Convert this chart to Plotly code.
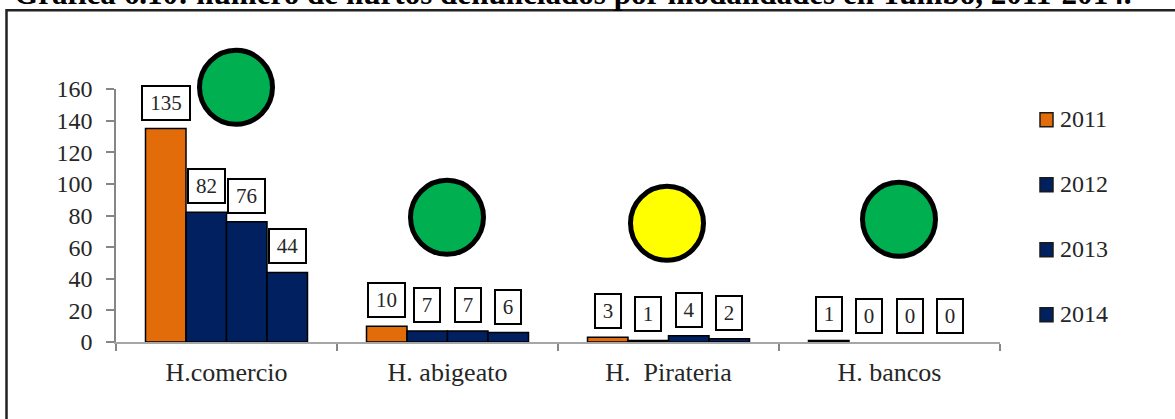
import plotly.graph_objects as go

categories = ["H.comercio", "H. abigeato", "H.  Pirateria", "H. bancos"]
years = ["2011", "2012", "2013", "2014"]
values_2011 = [135, 10, 3, 1]
values_2012 = [82, 7, 1, 0]
values_2013 = [76, 7, 4, 0]
values_2014 = [44, 6, 2, 0]
y_ticks = [0, 20, 40, 60, 80, 100, 120, 140, 160]

title = "Gráfica 6.10: número de hurtos denunciados por modalidades en Tumbo, 2011-2014."
series = [values_2011, values_2012, values_2013, values_2014]
colors = ["#E36C0A", "#002060", "#002060", "#002060"]
# traffic light circles: centre x, centre y in page pixels, colour
circles = [
    (236, 87, "#00B050"),
    (447, 217, "#00B050"),
    (667, 223, "#FFFF00"),
    (899, 219, "#00B050"),
]
legend_y = [119, 184, 249, 314]

WIDTH, HEIGHT = 1175, 419
LEFT, RIGHT, TOP, BOTTOM = 116, 1000, 88.7, 341.7
FONT = "Liberation Serif"
TEXT = "#262626"


def px_x(x):
    return (x - LEFT) / (RIGHT - LEFT)


def px_y(y):
    return (BOTTOM - y) / (BOTTOM - TOP)


fig = go.Figure()

for year, vals, color in zip(years, series, colors):
    fig.add_trace(
        go.Bar(
            x=categories,
            y=vals,
            name=year,
            marker=dict(
                color=color,
                # empty bars must not leave a black line on the axis
                line=dict(color="black", width=[1.5 if v else 0 for v in vals]),
            ),
            showlegend=False,
        )
    )

# boxed value labels
BAR_W = 40.5
for i, vals in enumerate(series):
    for cat, val in zip(categories, vals):
        fig.add_annotation(
            x=cat,
            y=val,
            text=str(val),
            showarrow=False,
            xshift=(i - 1.5) * BAR_W,
            yshift=26,
            width={1: 22, 2: 33, 3: 44}[len(str(val))],
            height=30,
            bgcolor="white",
            bordercolor="black",
            borderwidth=2,
            borderpad=1,
            font=dict(family=FONT, size=21, color=TEXT),
        )

for cx, cy, color in circles:
    fig.add_shape(
        type="circle",
        xref="paper",
        yref="paper",
        x0=px_x(cx - 36.5),
        x1=px_x(cx + 36.5),
        y0=px_y(cy + 37),
        y1=px_y(cy - 37),
        fillcolor=color,
        line=dict(color="black", width=5),
    )

# legend drawn by hand, squares are smaller than plotly's own swatches
for year, color, y in zip(years, colors, legend_y):
    fig.add_shape(
        type="rect",
        xref="paper",
        yref="paper",
        x0=px_x(1040),
        x1=px_x(1053),
        y0=px_y(y + 7.5),
        y1=px_y(y - 6.5),
        fillcolor=color,
        line=dict(color="#1a1a1a", width=1.5),
    )
    fig.add_annotation(
        xref="paper",
        yref="paper",
        x=px_x(1058),
        y=px_y(y),
        text=year,
        showarrow=False,
        xanchor="left",
        yanchor="middle",
        font=dict(family=FONT, size=24, color=TEXT),
    )

# page frame, open to the right and below
fig.add_shape(
    type="rect",
    xref="paper",
    yref="paper",
    x0=px_x(6.5),
    x1=px_x(1200),
    y0=px_y(440),
    y1=px_y(10),
    line=dict(color="#222222", width=2.5),
)

# the page crop cuts this line through the top of the letters
fig.add_annotation(
    xref="paper",
    yref="paper",
    x=px_x(12),
    y=px_y(-7),
    text=f"<b>{title}</b>",
    showarrow=False,
    xanchor="left",
    yanchor="middle",
    font=dict(family=FONT, size=31.1, color="black"),
)

fig.update_layout(
    width=WIDTH,
    height=HEIGHT,
    margin=dict(l=LEFT, r=WIDTH - RIGHT, t=TOP, b=HEIGHT - BOTTOM, autoexpand=False),
    paper_bgcolor="white",
    plot_bgcolor="white",
    barmode="group",
    bargap=0.267,
    bargroupgap=0,
    font=dict(family=FONT, size=24, color=TEXT),
)
fig.update_xaxes(
    tickson="boundaries",
    ticks="outside",
    ticklen=7,
    tickcolor="#868686",
    tickwidth=1.5,
    showline=True,
    linecolor="#A6A6A6",
    linewidth=2,
    showgrid=False,
    tickfont=dict(size=26),
    ticklabelstandoff=6,
)
fig.update_yaxes(
    range=[0, 160],
    tickvals=y_ticks,
    ticks="outside",
    ticklen=8,
    tickcolor="#868686",
    tickwidth=1.5,
    showline=True,
    linecolor="#868686",
    linewidth=1.5,
    showgrid=False,
    zeroline=False,
    ticklabelstandoff=9,
)

fig.write_html(
    "out.html",
    config=dict(displayModeBar=False),
    post_script="document.body.style.margin='0'",
)
